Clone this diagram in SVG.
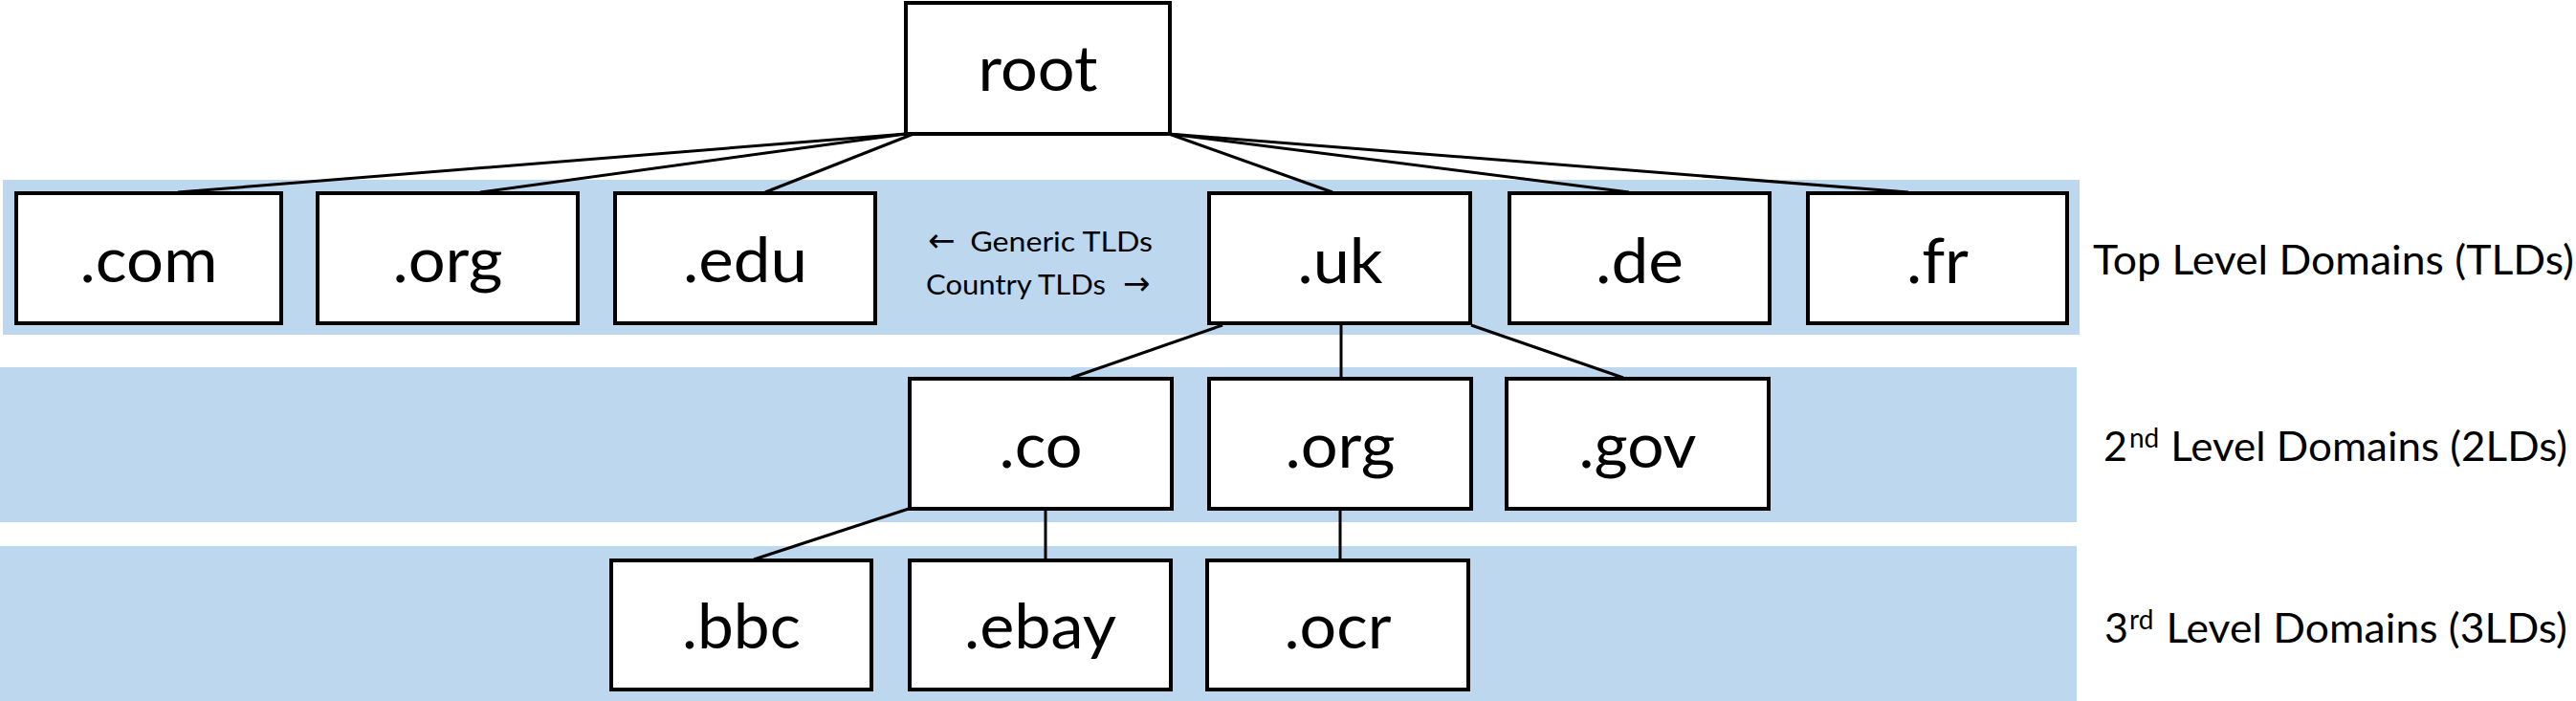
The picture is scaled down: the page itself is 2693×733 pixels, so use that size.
<svg xmlns="http://www.w3.org/2000/svg" width="2693" height="733" viewBox="0 0 2693 733">
<style>
.band{fill:#BDD7EE;stroke:none}
.box{fill:#ffffff;stroke:#000000;stroke-width:4}
.lbl{font-family:Lato,"Liberation Sans",sans-serif;font-size:66px;fill:#000000;text-anchor:middle}
.side{font-family:Lato,"Liberation Sans",sans-serif;font-size:43px;fill:#000000}
.note{font-family:Lato,"DejaVu Sans","Liberation Sans",sans-serif;font-size:29.5px;fill:#000000}
.arr{font-family:"DejaVu Sans",sans-serif;font-size:34px}
.sup{font-size:28px}
#connectors line{stroke:#000000;stroke-width:3;stroke-linecap:butt}
</style>
<rect width="2693" height="733" fill="#ffffff"/>
<g id="bands">
<rect class="band" x="3" y="188" width="2171" height="162"/>
<rect class="band" x="0" y="384" width="2171" height="162"/>
<rect class="band" x="0" y="571" width="2171" height="162"/>
</g>
<g id="connectors">
<line x1="947" y1="140" x2="186" y2="201"/>
<line x1="947" y1="140" x2="502" y2="201"/>
<line x1="955" y1="140" x2="800" y2="201"/>
<line x1="1222" y1="140" x2="1393" y2="201"/>
<line x1="1222" y1="140" x2="1703" y2="201"/>
<line x1="1222" y1="140" x2="1995" y2="201"/>
<line x1="1278" y1="340" x2="1120" y2="395"/>
<line x1="1402" y1="340" x2="1402" y2="395"/>
<line x1="1538" y1="340" x2="1697" y2="395"/>
<line x1="953" y1="531" x2="788" y2="585"/>
<line x1="1093" y1="533" x2="1093" y2="585"/>
<line x1="1401" y1="533" x2="1401" y2="585"/>
</g>
<g id="node-root"><rect class="box" x="947" y="3" width="276" height="137"/><text class="lbl" x="1085" y="95" textLength="125" lengthAdjust="spacingAndGlyphs">root</text></g>
<g id="node-com"><rect class="box" x="17" y="202" width="277" height="136"/><text class="lbl" x="155.5" y="295" textLength="144" lengthAdjust="spacingAndGlyphs">.com</text></g>
<g id="node-org"><rect class="box" x="332" y="202" width="272" height="136"/><text class="lbl" x="468" y="295" textLength="115" lengthAdjust="spacingAndGlyphs">.org</text></g>
<g id="node-edu"><rect class="box" x="643" y="202" width="272" height="136"/><text class="lbl" x="779" y="295" textLength="130" lengthAdjust="spacingAndGlyphs">.edu</text></g>
<g id="node-uk"><rect class="box" x="1264" y="202" width="273" height="136"/><text class="lbl" x="1401" y="296" textLength="89" lengthAdjust="spacingAndGlyphs">.uk</text></g>
<g id="node-de"><rect class="box" x="1578" y="202" width="272" height="136"/><text class="lbl" x="1714" y="296" textLength="92" lengthAdjust="spacingAndGlyphs">.de</text></g>
<g id="node-fr"><rect class="box" x="1890" y="202" width="271" height="136"/><text class="lbl" x="2025.5" y="296" textLength="65" lengthAdjust="spacingAndGlyphs">.fr</text></g>
<g id="node-co"><rect class="box" x="951" y="396" width="274" height="136"/><text class="lbl" x="1088" y="489" textLength="87" lengthAdjust="spacingAndGlyphs">.co</text></g>
<g id="node-org2"><rect class="box" x="1264" y="396" width="274" height="136"/><text class="lbl" x="1401" y="489" textLength="115" lengthAdjust="spacingAndGlyphs">.org</text></g>
<g id="node-gov"><rect class="box" x="1575" y="396" width="274" height="136"/><text class="lbl" x="1712" y="489" textLength="123" lengthAdjust="spacingAndGlyphs">.gov</text></g>
<g id="node-bbc"><rect class="box" x="639" y="586" width="272" height="135"/><text class="lbl" x="775" y="678" textLength="124" lengthAdjust="spacingAndGlyphs">.bbc</text></g>
<g id="node-ebay"><rect class="box" x="951" y="586" width="273" height="135"/><text class="lbl" x="1087.5" y="678" textLength="159" lengthAdjust="spacingAndGlyphs">.ebay</text></g>
<g id="node-ocr"><rect class="box" x="1262" y="586" width="273" height="135"/><text class="lbl" x="1398.5" y="678" textLength="112" lengthAdjust="spacingAndGlyphs">.ocr</text></g>
<g id="notes">
<text class="note" y="263"><tspan class="arr" x="970">←</tspan><tspan x="1006" textLength="199" lengthAdjust="spacingAndGlyphs"> Generic TLDs</tspan></text>
<text class="note" y="308"><tspan x="968" textLength="196" lengthAdjust="spacingAndGlyphs">Country TLDs </tspan><tspan class="arr" x="1174">→</tspan></text>
</g>
<g id="level-labels">
<text class="side" x="2188" y="287" textLength="503" lengthAdjust="spacingAndGlyphs">Top Level Domains (TLDs)</text>
<text class="side" y="482"><tspan x="2199">2</tspan><tspan class="sup" x="2226" dy="-14">nd</tspan><tspan x="2258" dy="14" textLength="426" lengthAdjust="spacingAndGlyphs"> Level Domains (2LDs)</tspan></text>
<text class="side" y="672"><tspan x="2200">3</tspan><tspan class="sup" x="2226" dy="-14">rd</tspan><tspan x="2253" dy="14" textLength="431" lengthAdjust="spacingAndGlyphs"> Level Domains (3LDs)</tspan></text>
</g>
</svg>
